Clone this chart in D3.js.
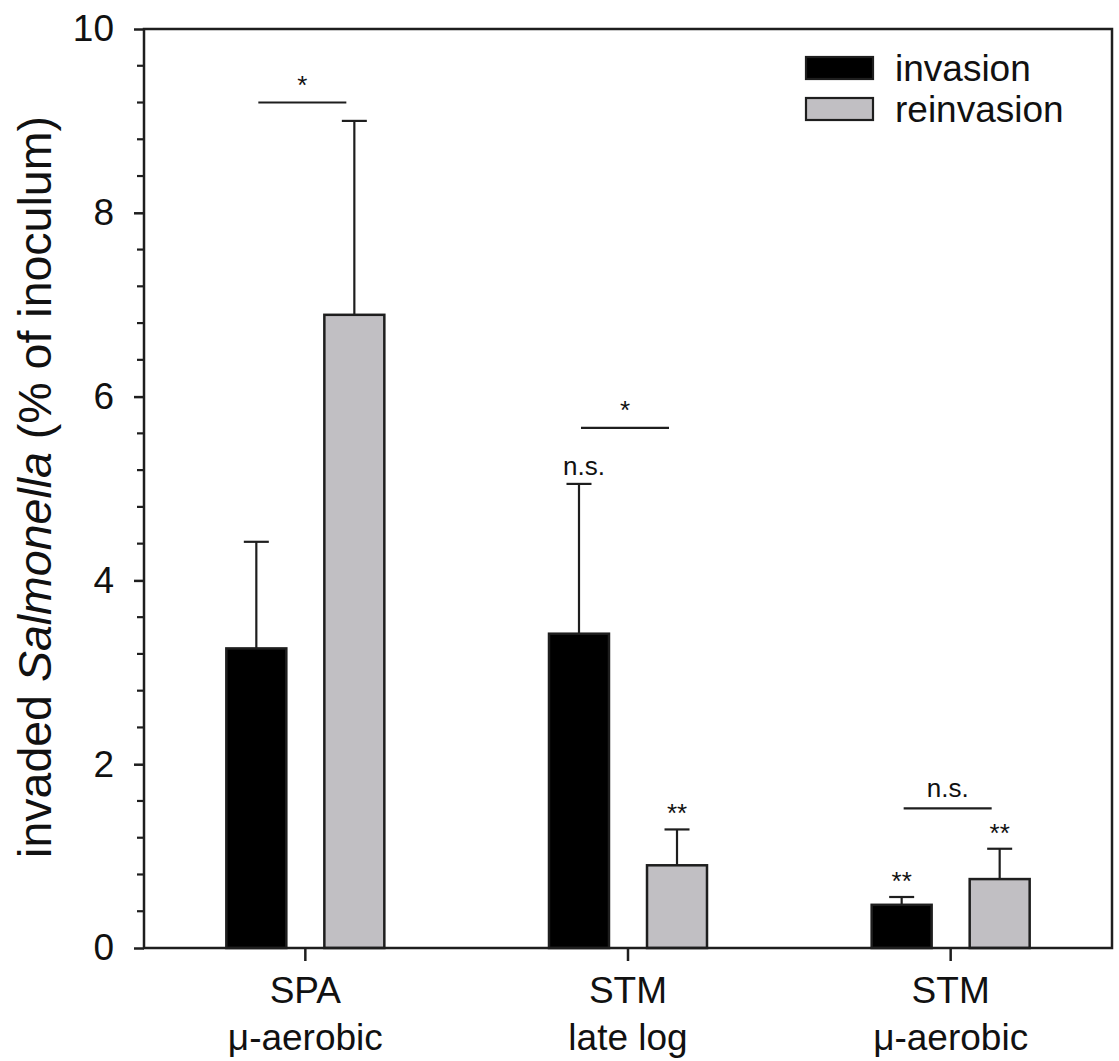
<!DOCTYPE html>
<html>
<head>
<meta charset="utf-8">
<script src="https://cdn.jsdelivr.net/npm/d3@7"></script>
<style>
  body { margin: 0; background: #fff; }
  svg { font-family: "Liberation Sans", Arial, sans-serif; }
</style>
</head>
<body>
<div id="chart"></div>
<script>
// data
const categories = ["SPA μ-aerobic", "STM late log", "STM μ-aerobic"];
const categoryLines = [["SPA", "μ-aerobic"], ["STM", "late log"], ["STM", "μ-aerobic"]];
const series = ["invasion", "reinvasion"];
const invasion = [3.26, 3.42, 0.47];
const invasionErr = [1.16, 1.63, 0.085];
const reinvasion = [6.89, 0.90, 0.75];
const reinvasionErr = [2.11, 0.39, 0.33];
const yTicks = [0, 2, 4, 6, 8, 10];

// significance brackets between the two bars of a group
const bracketY = [9.2, 5.66, 1.52];
const bracketLabels = ["*", "*", "n.s."];
// marks above single bars: [category index, series, label]
const barMarks = [
    [1, "invasion", "n.s."],
    [1, "reinvasion", "**"],
    [2, "invasion", "**"],
    [2, "reinvasion", "**"]
];

const colors = { invasion: "#000000", reinvasion: "#c1bfc3" };
const ink = "#1e1e1e";

const width = 1119, height = 1061;
const margin = { top: 29, right: 7, bottom: 113, left: 144 };
const innerW = width - margin.left - margin.right;
const innerH = height - margin.top - margin.bottom;

const svg = d3.select("#chart").append("svg")
    .attr("width", width)
    .attr("height", height);

const g = svg.append("g")
    .attr("transform", `translate(${margin.left},${margin.top})`);

const x = d3.scaleBand().domain(categories).range([0, innerW]).padding(0);
const xs = d3.scaleBand().domain(series).range([-79, 79]).paddingInner(0.388);
const y = d3.scaleLinear().domain([0, 10]).range([innerH, 0]);

const data = categories.map((c, i) => ({
    cat: c,
    values: [
        { key: "invasion", v: invasion[i], e: invasionErr[i] },
        { key: "reinvasion", v: reinvasion[i], e: reinvasionErr[i] }
    ]
}));

const cx = (c, s) => x(c) + x.bandwidth() / 2 + xs(s) + xs.bandwidth() / 2;

// error bars (upper only), drawn before bars
data.forEach(d => {
    d.values.forEach(s => {
        const xc = cx(d.cat, s.key);
        g.append("line")
            .attr("x1", xc).attr("x2", xc)
            .attr("y1", y(s.v)).attr("y2", y(s.v + s.e))
            .attr("stroke", ink).attr("stroke-width", 2.2);
        g.append("line")
            .attr("x1", xc - 12.5).attr("x2", xc + 12.5)
            .attr("y1", y(s.v + s.e)).attr("y2", y(s.v + s.e))
            .attr("stroke", ink).attr("stroke-width", 2.2);
    });
});

// bars
const groups = g.selectAll(".grp")
    .data(data)
    .enter().append("g")
    .attr("class", "grp")
    .attr("transform", d => `translate(${x(d.cat) + x.bandwidth() / 2},0)`);

groups.selectAll("rect")
    .data(d => d.values)
    .enter().append("rect")
    .attr("x", d => xs(d.key))
    .attr("y", d => y(d.v))
    .attr("width", xs.bandwidth())
    .attr("height", d => innerH - y(d.v))
    .attr("fill", d => colors[d.key])
    .attr("stroke", ink)
    .attr("stroke-width", 2.5);

// frame
g.append("rect")
    .attr("x", 0).attr("y", 0)
    .attr("width", innerW).attr("height", innerH)
    .attr("fill", "none")
    .attr("stroke", ink)
    .attr("stroke-width", 2.5);

// y axis: major + minor ticks
const yAxis = g.append("g")
    .call(d3.axisLeft(y).tickValues(yTicks).tickSize(10).tickPadding(20).tickFormat(d3.format("d")));
yAxis.select(".domain").remove();
yAxis.selectAll(".tick line").attr("stroke", ink).attr("stroke-width", 2.5);
yAxis.selectAll(".tick text")
    .attr("font-size", 37)
    .attr("fill", "#111")
    .attr("font-family", "Liberation Sans, Arial, sans-serif");

const minor = d3.range(0, 10.001, 0.4).filter(v => !yTicks.some(t => Math.abs(t - v) < 1e-6));
g.selectAll(".minor")
    .data(minor)
    .enter().append("line")
    .attr("class", "minor")
    .attr("x1", -7).attr("x2", 0)
    .attr("y1", d => y(d)).attr("y2", d => y(d))
    .attr("stroke", ink).attr("stroke-width", 2.2);

// x axis
const xAxis = g.append("g")
    .attr("transform", `translate(0,${innerH})`)
    .call(d3.axisBottom(x).tickSize(13).tickFormat(""));
xAxis.select(".domain").remove();
xAxis.selectAll(".tick line").attr("stroke", ink).attr("stroke-width", 2.5);

categories.forEach((c, i) => {
    const t = g.append("text")
        .attr("x", x(c) + x.bandwidth() / 2)
        .attr("y", innerH + 55)
        .attr("text-anchor", "middle")
        .attr("font-size", 37)
        .attr("fill", "#111");
    categoryLines[i].forEach((line, j) => {
        t.append("tspan")
            .attr("x", x(c) + x.bandwidth() / 2)
            .attr("dy", j === 0 ? 0 : 47)
            .text(line);
    });
});

// y title
const title = svg.append("text")
    .attr("transform", `translate(51,${487}) rotate(-90)`)
    .attr("text-anchor", "middle")
    .attr("font-size", 46.5)
    .attr("fill", "#111");
title.append("tspan").text("invaded ");
title.append("tspan").attr("font-style", "italic").text("Salmonella");
title.append("tspan").text(" (% of inoculum)");

// significance brackets
const markSize = 26;
categories.forEach((c, i) => {
    const x1 = cx(c, "invasion") + 2;
    const x2 = cx(c, "reinvasion") - 8;
    const yy = y(bracketY[i]);
    g.append("line")
        .attr("x1", x1).attr("x2", x2)
        .attr("y1", yy).attr("y2", yy)
        .attr("stroke", ink).attr("stroke-width", 2.2);
    const lab = bracketLabels[i];
    g.append("text")
        .attr("x", (x1 + x2) / 2)
        .attr("y", lab.includes("*") ? yy - 24 + 15 : yy - 11)
        .attr("text-anchor", "middle")
        .attr("font-size", markSize)
        .attr("fill", "#111")
        .text(lab);
});

// marks above single bars
barMarks.forEach(([ci, s, lab]) => {
    const c = categories[ci];
    const v = s === "invasion" ? invasion[ci] + invasionErr[ci] : reinvasion[ci] + reinvasionErr[ci];
    const top = y(v);
    g.append("text")
        .attr("x", cx(c, s) + (lab === "n.s." ? 5 : 0))
        .attr("y", lab.includes("*") ? top - 22 + 15 : top - 9)
        .attr("text-anchor", "middle")
        .attr("font-size", markSize)
        .attr("fill", "#111")
        .text(lab);
});

// legend
const legend = svg.append("g").attr("transform", "translate(806,57)");
series.forEach((s, i) => {
    const row = legend.append("g").attr("transform", `translate(0,${i * 41})`);
    row.append("rect")
        .attr("x", 0).attr("y", 0)
        .attr("width", 67).attr("height", 22)
        .attr("fill", colors[s])
        .attr("stroke", ink)
        .attr("stroke-width", 2.2);
    row.append("text")
        .attr("x", 89)
        .attr("y", 24)
        .attr("font-size", 37)
        .attr("fill", "#111")
        .text(s);
});
</script>
</body>
</html>
